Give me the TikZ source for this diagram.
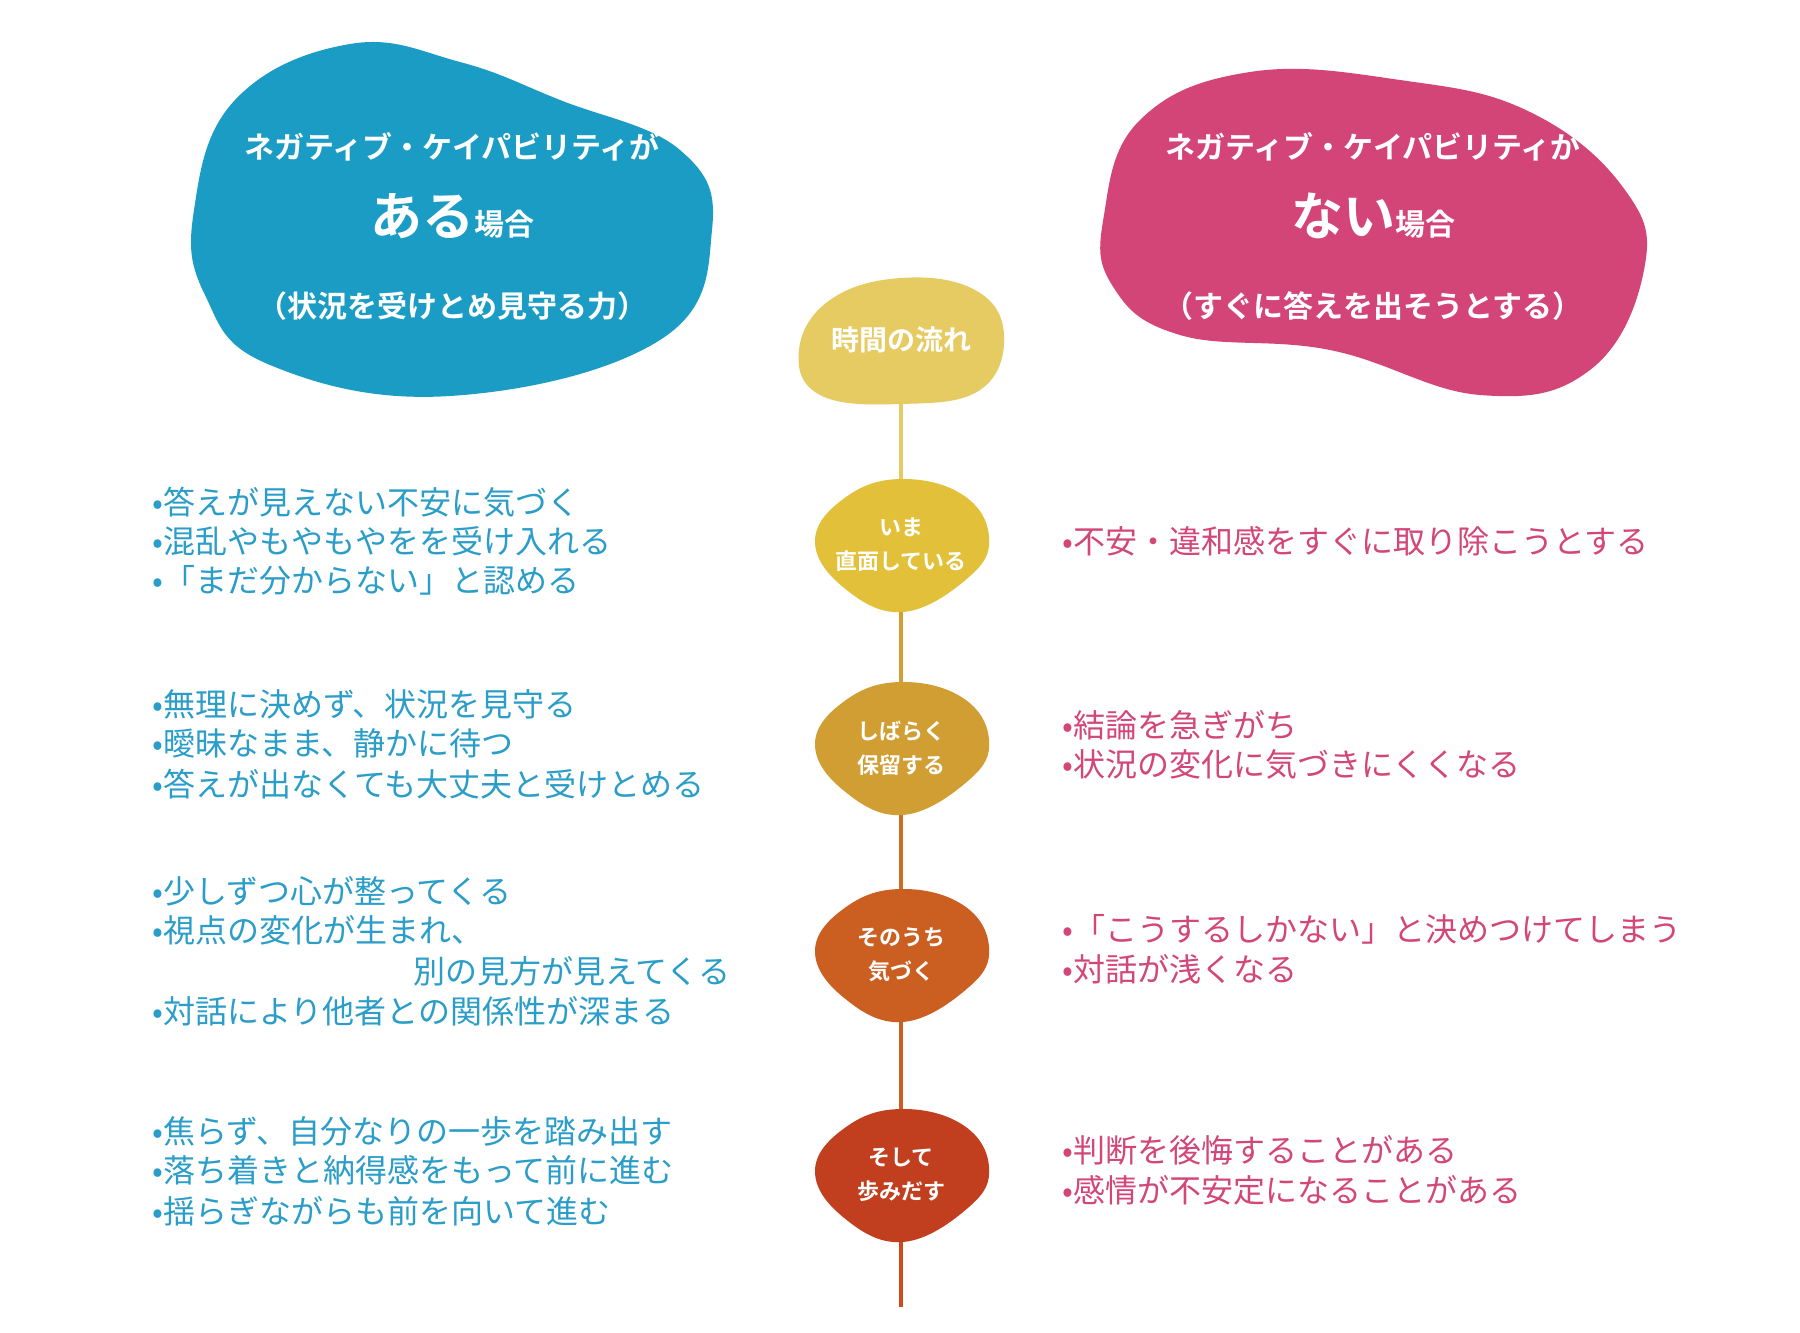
\documentclass[tikz,border=0pt]{standalone}
\usepackage{fontspec}
\setmainfont{Noto Sans CJK JP}
\newfontfamily\jpb{Noto Sans CJK JP Bold}
\definecolor{cblue}{HTML}{1B9CC4}
\definecolor{cpink}{HTML}{D44577}
\definecolor{tblue}{HTML}{2A9DC8}
\definecolor{tpink}{HTML}{D34678}
\definecolor{y0}{HTML}{E6CB62}
\definecolor{y1}{HTML}{E2C03A}
\definecolor{y2}{HTML}{D19E33}
\definecolor{y3}{HTML}{CB5F22}
\definecolor{y4}{HTML}{C13F1F}
\begin{document}
\begin{tikzpicture}[x=1pt,y=-1pt,
  lb/.style={anchor=west,text=tblue,font=\fontsize{32}{38}\selectfont,inner sep=0pt},
  rb/.style={anchor=west,text=tpink,font=\fontsize{32}{38}\selectfont,inner sep=0pt},
  blab/.style={text=white,font=\jpb\fontsize{22}{34}\selectfont,align=center},
  seg/.style={line width=3.5pt}]
\useasboundingbox (0,0) rectangle (1800,1333);
\fill[white] (0,0) rectangle (1800,1333);
% centres
\coordinate (c0) at (901,340);
\coordinate (c1) at (901,545);
\coordinate (c2) at (901,748);
\coordinate (c3) at (901,955);
\coordinate (c4) at (901,1175);
\coordinate (end) at (901,1307);
\draw[seg,y0] (c0) -- (c1);
\draw[seg,y2] (c1) -- (c2);
\draw[seg,y3!80!y2] (c2) -- (c3);
\draw[seg,y3] (c3) -- (c4);
\draw[seg,y4!80!orange] (c4) -- (end);
% big blobs
\fill[cblue] plot[smooth cycle,tension=0.7] coordinates {(194,210) (235,100) (350,44) (460,62) (560,100) (680,150) (712,230) (660,340) (450,396) (270,365) (205,295)};
\fill[cpink] plot[smooth cycle,tension=0.7] coordinates {(1104,215) (1140,120) (1250,72) (1400,80) (1530,112) (1625,190) (1644,270) (1590,370) (1480,395) (1330,350) (1180,335) (1112,285)};
\node[text=white,font=\jpb\fontsize{30}{36}\selectfont] (bt1) at (452,147) {ネガティブ・ケイパビリティが};
\node[text=white,font=\jpb\fontsize{52}{60}\selectfont] (bt2) at (452,216) {ある\fontsize{30}{36}\selectfont 場合};
\node[text=white,font=\jpb\fontsize{30}{36}\selectfont] (bt3) at (452,306) {（状況を受けとめ見守る力）};
\node[text=white,font=\jpb\fontsize{30}{36}\selectfont] (pt1) at (1373,147) {ネガティブ・ケイパビリティが};
\node[text=white,font=\jpb\fontsize{52}{60}\selectfont] (pt2) at (1373,216) {ない\fontsize{30}{36}\selectfont 場合};
\node[text=white,font=\jpb\fontsize{30}{36}\selectfont] (pt3) at (1373,306) {（すぐに答えを出そうとする）};
% time blobs
\fill[y0] plot[smooth cycle,tension=0.7] coordinates {(799,350) (830,300) (901,278) (975,290) (1004,335) (980,390) (901,404) (820,395)};
\node[text=white,font=\jpb\fontsize{28}{34}\selectfont] (n0) at (c0) {時間の流れ};
\foreach \c/\col in {c1/y1,c2/y2,c3/y3,c4/y4}{
  \fill[\col] plot[smooth cycle,tension=0.7] coordinates {([shift={(-86,-5)}]\c) ([shift={(-55,-48)}]\c) ([shift={(0,-66)}]\c) ([shift={(62,-50)}]\c) ([shift={(88,-8)}]\c) ([shift={(68,32)}]\c) ([shift={(2,67)}]\c) ([shift={(-58,42)}]\c)};
}
\node[blab] (n1) at (c1) {いま\\直面している};
\node[blab] (n2) at (c2) {しばらく\\保留する};
\node[blab] (n3) at (c3) {そのうち\\気づく};
\node[blab] (n4) at (c4) {そして\\歩みだす};
% left bullets
\node[lb] (l1) at (152,502) {•答えが見えない不安に気づく};
\node[lb] (l2) at (152,541) {•混乱やもやもやをを受け入れる};
\node[lb] (l3) at (152,580) {•「まだ分からない」と認める};
\node[lb] (l4) at (152,704) {•無理に決めず、状況を見守る};
\node[lb] (l5) at (152,743) {•曖昧なまま、静かに待つ};
\node[lb] (l6) at (152,784) {•答えが出なくても大丈夫と受けとめる};
\node[lb] (l7) at (152,891) {•少しずつ心が整ってくる};
\node[lb] (l8) at (152,930) {•視点の変化が生まれ、};
\node[lb] (l9) at (413,971) {別の見方が見えてくる};
\node[lb] (l10) at (152,1011) {•対話により他者との関係性が深まる};
\node[lb] (l11) at (152,1131) {•焦らず、自分なりの一歩を踏み出す};
\node[lb] (l12) at (152,1170) {•落ち着きと納得感をもって前に進む};
\node[lb] (l13) at (152,1211) {•揺らぎながらも前を向いて進む};
% right bullets
\node[rb] (r1) at (1062,541) {•不安・違和感をすぐに取り除こうとする};
\node[rb] (r2) at (1062,725) {•結論を急ぎがち};
\node[rb] (r3) at (1062,764) {•状況の変化に気づきにくくなる};
\node[rb] (r4) at (1062,929) {•「こうするしかない」と決めつけてしまう};
\node[rb] (r5) at (1062,969) {•対話が浅くなる};
\node[rb] (r6) at (1062,1150) {•判断を後悔することがある};
\node[rb] (r7) at (1062,1190) {•感情が不安定になることがある};
\end{tikzpicture}
\end{document}
